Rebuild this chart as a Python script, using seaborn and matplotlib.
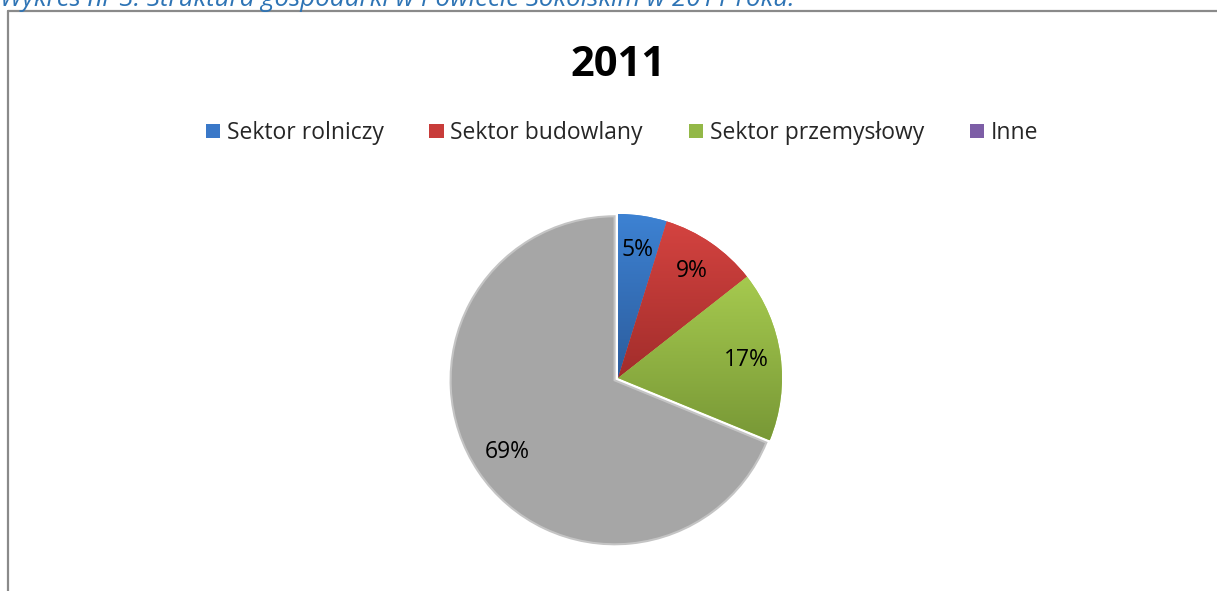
import numpy as np
import seaborn as sns
import matplotlib.pyplot as plt
from matplotlib.patches import Patch
from matplotlib.lines import Line2D
from matplotlib.colors import to_rgb

# data
sectors = ["Sektor rolniczy", "Sektor budowlany", "Sektor przemysłowy", "Inne"]
shares = [4.8, 9.6, 16.8, 68.8]
pct_labels = ["5%", "9%", "17%", "69%"]
year = "2011"
caption = "Wykres nr 3. Struktura gospodarki w Powiecie Sokólskim w 2011 roku."

sns.set_theme(style="white")
plt.rcParams["font.family"] = ["Open Sans", "DejaVu Sans"]

legend_colors = ["#3a78c8", "#c83c3a", "#93b847", "#7d5ea6"]
grad_top = ["#3d82d3", "#d44340", "#a6ca4f", "#a6a6a6"]
grad_bot = ["#2c5c9c", "#a22d2b", "#789836", "#a6a6a6"]

W, H = 1217, 591
fig = plt.figure(figsize=(W / 100, H / 100), dpi=100)
fig.patch.set_facecolor("white")

# pie centre at (618, 378) px, radius 164 px
cx, cy, half, rad = 618, 378, 200, 164
ax = fig.add_axes([(cx - half) / W, (H - cy - half) / H, 2 * half / W, 2 * half / H])
wedges, texts = ax.pie(
    shares,
    labels=pct_labels,
    labeldistance=0.79,
    startangle=90,
    counterclock=False,
    explode=[0, 0, 0, 0.025],
    colors=grad_top,
    wedgeprops=dict(linewidth=0),
    textprops=dict(fontsize=16.5, color="black"),
)
for t in texts:
    t.set_ha("center")
    t.set_va("center")
    t.set_zorder(5)

# vertical gradient inside each wedge (lighter on top)
g = np.linspace(0, 1, 256)[:, None, None]
for w, top, bot in zip(wedges, grad_top, grad_bot):
    if top == bot:
        w.set_edgecolor("#c4c4c4")
        w.set_linewidth(1.5)
        continue
    img = np.array(to_rgb(top))[None, None, :] * (1 - g) + np.array(to_rgb(bot))[None, None, :] * g
    ext = w.get_path().get_extents()
    im = ax.imshow(img, extent=[ext.x0, ext.x1, ext.y0, ext.y1], origin="upper",
                   aspect="auto", zorder=w.get_zorder() + 0.1, interpolation="bilinear")
    im.set_clip_path(w)

lim = half / rad
ax.set_xlim(-lim, lim)
ax.set_ylim(-lim, lim)
ax.axis("off")

# title
fig.text(618.5 / W, 1 - 76 / H, year, ha="center", va="baseline",
         fontsize=30, fontweight="bold", color="black")

# legend (the "Inne" entry keeps its purple key)
handles = [Patch(facecolor=c, edgecolor="none") for c in legend_colors]
fig.legend(handles, sectors, loc="center", bbox_to_anchor=(622 / W, 1 - 133 / H),
           ncol=4, frameon=False, fontsize=16.5, handlelength=0.62, handleheight=0.62,
           handletextpad=0.3, columnspacing=2.0, borderaxespad=0)

# chart frame
fig.add_artist(Line2D([8 / W, 8 / W], [0, 1 - 10.5 / H], color="#8a8a8a", lw=1.6,
                      transform=fig.transFigure))
fig.add_artist(Line2D([8 / W, 1], [1 - 10.5 / H, 1 - 10.5 / H], color="#8a8a8a", lw=1.6,
                      transform=fig.transFigure))

# caption above the chart, cut by the top edge as in the source
cap = fig.text(0, 1 - 5.5 / H, caption, ha="left", va="baseline", style="italic",
               color="#2e74b5", fontsize=14)
fig.canvas.draw()
bb = cap.get_window_extent()
cap.set_fontsize(14 * 797 / bb.width)

fig.savefig("out.png", dpi=100, facecolor="white")
